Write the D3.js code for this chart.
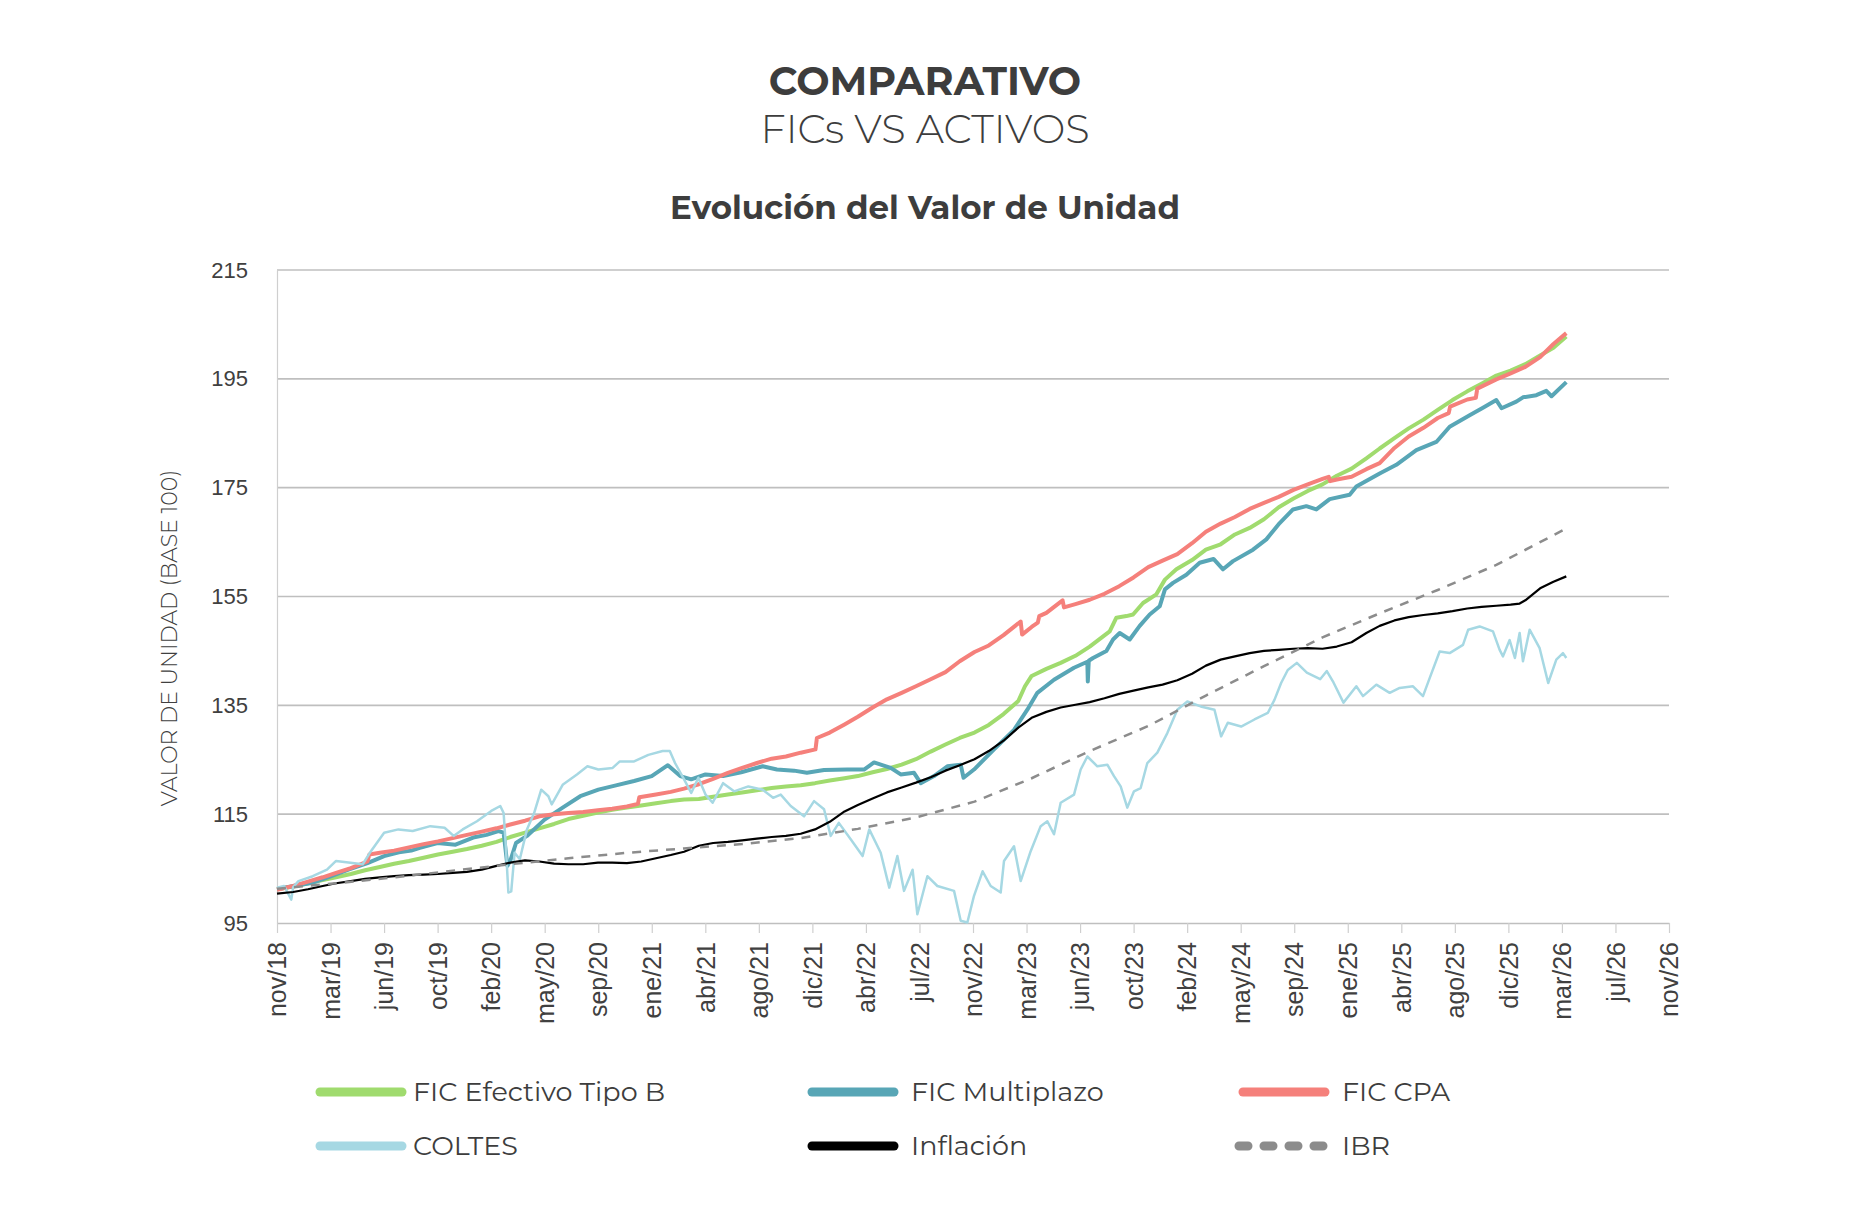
<!DOCTYPE html>
<html lang="es">
<head>
<meta charset="utf-8">
<title>Comparativo FICs vs Activos</title>
<script src="https://cdn.jsdelivr.net/npm/d3@7"></script>
<style>
    body { margin: 0; background: #ffffff; font-family: "Montserrat", "Inter", "Noto Sans", sans-serif; }
    #chart-area { width: 1850px; height: 1206px; }
    .axis text { fill: #404040; }
</style>
</head>
<body>
<div id="chart-area"></div>
<script>

// ---- DATA ----

const ficEfectivo = [
    ["2018-11-11",101.2],["2018-12-15",101.7],["2019-01-15",102.3],["2019-02-15",102.9],["2019-03-15",103.4],
    ["2019-04-15",104.0],["2019-05-15",104.7],["2019-06-15",105.3],["2019-07-15",105.9],["2019-08-15",106.4],
    ["2019-09-15",107.0],["2019-10-15",107.6],["2019-11-15",108.1],["2019-12-15",108.6],["2020-01-15",109.2],
    ["2020-02-15",109.9],["2020-03-15",110.8],["2020-04-15",111.6],["2020-05-15",112.4],["2020-06-15",113.2],
    ["2020-07-15",114.1],["2020-08-15",114.7],["2020-09-15",115.3],["2020-10-15",115.8],["2020-11-15",116.2],
    ["2020-12-15",116.6],["2021-01-15",117.0],["2021-02-15",117.4],["2021-03-15",117.7],["2021-04-15",117.8],
    ["2021-05-15",118.2],["2021-06-15",118.6],["2021-07-15",119.0],["2021-08-15",119.4],["2021-09-15",119.8],
    ["2021-10-15",120.1],["2021-11-15",120.3],["2021-12-15",120.7],["2022-01-15",121.2],["2022-02-15",121.6],
    ["2022-03-15",122.0],["2022-04-15",122.7],["2022-05-15",123.3],["2022-06-15",124.1],["2022-07-15",125.1],
    ["2022-08-15",126.5],["2022-09-15",127.8],["2022-10-15",129.0],["2022-11-15",130.0],["2022-12-15",131.4],
    ["2023-01-15",133.4],["2023-02-15",135.8],["2023-03-01",138.5],["2023-03-15",140.4],["2023-04-15",141.7],
    ["2023-05-15",142.8],["2023-06-15",144.1],["2023-07-15",145.8],["2023-08-26",148.6],["2023-09-09",151.1],
    ["2023-09-30",151.4],["2023-10-14",151.7],["2023-11-04",153.8],["2023-12-02",155.4],["2023-12-20",158.1],
    ["2024-01-13",160.0],["2024-02-15",161.7],["2024-03-15",163.6],["2024-04-15",164.6],["2024-05-15",166.4],
    ["2024-06-15",167.6],["2024-07-15",169.2],["2024-08-15",171.4],["2024-09-15",173.0],["2024-10-15",174.4],
    ["2024-11-15",175.6],["2024-12-15",177.2],["2025-01-15",178.5],["2025-02-15",180.4],["2025-03-15",182.2],
    ["2025-04-15",184.1],["2025-05-15",185.9],["2025-06-15",187.5],["2025-07-15",189.3],["2025-08-15",191.1],
    ["2025-09-15",192.7],["2025-10-15",194.1],["2025-11-15",195.6],["2025-12-15",196.5],["2026-01-15",197.7],
    ["2026-02-15",199.3],["2026-03-15",200.7],["2026-04-11",202.8]
];

const ficMultiplazo = [
    ["2018-11-11",101.2],["2018-12-10",101.7],["2019-01-25",102.4],["2019-03-01",103.5],["2019-04-10",104.8],
    ["2019-05-20",106.0],["2019-06-24",107.3],["2019-07-25",108.0],["2019-08-20",108.3],["2019-09-07",108.8],
    ["2019-10-14",109.7],["2019-11-21",109.4],["2019-12-28",110.7],["2020-01-25",111.2],["2020-02-19",111.9],
    ["2020-03-01",111.6],["2020-03-09",105.5],["2020-03-16",106.7],["2020-03-27",109.7],["2020-04-19",111.0],
    ["2020-05-26",114.0],["2020-07-03",116.2],["2020-08-09",118.3],["2020-09-16",119.5],["2020-10-23",120.3],
    ["2020-11-30",121.1],["2021-01-06",122.0],["2021-02-09",124.0],["2021-03-07",122.0],["2021-03-30",121.4],
    ["2021-04-29",122.3],["2021-06-05",122.0],["2021-07-13",122.7],["2021-08-27",123.8],["2021-09-26",123.2],
    ["2021-11-01",123.0],["2021-11-28",122.6],["2022-01-03",123.1],["2022-02-21",123.2],["2022-03-28",123.2],
    ["2022-04-18",124.5],["2022-05-23",123.5],["2022-06-13",122.3],["2022-07-11",122.6],["2022-07-25",120.7],
    ["2022-08-22",122.0],["2022-09-19",123.8],["2022-10-17",124.1],["2022-10-23",121.7],["2022-11-14",123.2],
    ["2022-12-26",126.9],["2023-02-06",130.5],["2023-03-06",134.2],["2023-03-27",137.3],["2023-05-01",139.7],
    ["2023-06-12",141.9],["2023-07-10",143.0],["2023-07-11",139.4],["2023-07-13",143.2],["2023-07-22",143.7],
    ["2023-08-19",145.0],["2023-09-02",147.1],["2023-09-16",148.3],["2023-10-07",147.1],["2023-10-28",149.6],
    ["2023-11-18",151.7],["2023-12-09",153.2],["2023-12-20",156.3],["2024-01-06",157.5],["2024-02-03",159.0],
    ["2024-03-02",161.2],["2024-03-31",161.9],["2024-04-20",160.0],["2024-05-11",161.5],["2024-06-22",163.6],
    ["2024-07-20",165.5],["2024-08-17",168.5],["2024-09-14",171.0],["2024-10-12",171.6],["2024-11-02",171.0],
    ["2024-11-30",172.9],["2025-01-11",173.7],["2025-01-25",175.2],["2025-03-15",177.6],["2025-04-19",179.2],
    ["2025-05-31",181.9],["2025-07-12",183.4],["2025-08-09",186.2],["2025-09-20",188.3],["2025-10-18",189.7],
    ["2025-11-15",191.1],["2025-11-26",189.6],["2025-12-27",190.8],["2026-01-10",191.6],["2026-02-07",192.0],
    ["2026-02-28",192.8],["2026-03-11",191.8],["2026-04-11",194.4]
];

const ficCPA = [
    ["2018-11-11",101.1],["2018-12-15",101.8],["2019-01-15",102.6],["2019-02-15",103.4],["2019-03-15",104.2],
    ["2019-04-15",105.1],["2019-05-20",106.3],["2019-05-24",107.6],["2019-06-15",107.9],["2019-07-15",108.3],
    ["2019-08-15",108.9],["2019-09-15",109.5],["2019-10-15",110.0],["2019-11-15",110.6],["2019-12-15",111.2],
    ["2020-01-15",111.8],["2020-02-15",112.4],["2020-03-15",113.1],["2020-04-15",113.8],["2020-05-15",114.6],
    ["2020-06-15",115.0],["2020-07-15",115.2],["2020-08-15",115.4],["2020-09-15",115.7],["2020-10-15",116.0],
    ["2020-11-15",116.4],["2020-12-08",116.9],["2020-12-11",118.1],["2021-01-15",118.6],["2021-02-15",119.1],
    ["2021-03-15",119.7],["2021-04-15",120.5],["2021-05-15",121.5],["2021-06-15",122.6],["2021-07-15",123.5],
    ["2021-08-15",124.4],["2021-09-15",125.2],["2021-10-15",125.6],["2021-11-15",126.3],["2021-12-16",126.9],
    ["2021-12-19",129.0],["2022-01-15",130.0],["2022-02-15",131.5],["2022-03-15",132.9],["2022-04-15",134.6],
    ["2022-05-15",136.1],["2022-06-15",137.3],["2022-07-15",138.5],["2022-08-15",139.8],["2022-09-15",141.1],
    ["2022-10-15",143.1],["2022-11-15",144.8],["2022-12-15",146.0],["2023-01-15",147.9],["2023-02-20",150.4],
    ["2023-02-23",148.0],["2023-03-15",149.4],["2023-03-28",150.2],["2023-03-31",151.4],["2023-04-15",152.0],
    ["2023-05-19",154.3],["2023-05-22",153.0],["2023-06-15",153.6],["2023-07-15",154.4],["2023-08-15",155.5],
    ["2023-09-15",156.9],["2023-10-15",158.5],["2023-11-15",160.4],["2023-12-15",161.6],["2024-01-15",162.8],
    ["2024-02-15",164.8],["2024-03-15",166.9],["2024-04-15",168.4],["2024-05-15",169.6],["2024-06-15",171.1],
    ["2024-07-15",172.2],["2024-08-15",173.3],["2024-09-15",174.6],["2024-10-15",175.6],["2024-11-15",176.6],
    ["2024-11-28",177.0],["2024-12-01",176.2],["2024-12-15",176.5],["2025-01-15",177.0],["2025-02-15",178.4],
    ["2025-03-15",179.5],["2025-04-15",182.3],["2025-05-15",184.4],["2025-06-15",186.0],["2025-07-15",187.8],
    ["2025-08-07",188.7],["2025-08-10",189.9],["2025-09-15",191.2],["2025-10-03",191.5],["2025-10-06",193.2],
    ["2025-11-15",194.9],["2025-12-15",196.0],["2026-01-15",197.2],["2026-02-15",199.0],["2026-03-15",201.4],
    ["2026-04-11",203.4]
];

const coltes = [
    ["2018-11-11",101.5],["2018-11-26",101.8],["2018-12-11",99.3],["2018-12-15",101.6],["2018-12-26",102.7],
    ["2019-01-25",103.6],["2019-02-24",104.8],["2019-03-15",106.4],["2019-04-10",106.1],["2019-05-10",105.8],
    ["2019-05-25",107.9],["2019-06-24",111.6],["2019-07-24",112.2],["2019-08-23",111.9],["2019-09-29",112.8],
    ["2019-10-29",112.5],["2019-11-17",111.0],["2019-12-06",112.2],["2020-01-05",113.7],["2020-02-04",115.6],
    ["2020-02-23",116.5],["2020-03-01",115.2],["2020-03-05",110.0],["2020-03-11",100.6],["2020-03-17",100.8],
    ["2020-03-24",107.9],["2020-04-04",106.7],["2020-04-19",112.2],["2020-05-04",115.2],["2020-05-19",119.5],
    ["2020-06-03",118.3],["2020-06-10",116.8],["2020-07-03",120.4],["2020-08-02",122.3],["2020-08-24",123.8],
    ["2020-09-16",123.2],["2020-10-16",123.5],["2020-10-31",124.7],["2020-11-30",124.7],["2020-12-30",125.9],
    ["2021-01-29",126.6],["2021-02-13",126.6],["2021-02-24",124.4],["2021-03-15",121.4],["2021-03-30",118.9],
    ["2021-04-14",121.7],["2021-04-29",118.6],["2021-05-14",117.1],["2021-06-05",120.7],["2021-06-28",119.2],
    ["2021-07-28",120.1],["2021-08-27",119.5],["2021-09-18",118.0],["2021-10-04",118.6],["2021-10-25",116.5],
    ["2021-11-22",114.6],["2021-12-13",117.4],["2022-01-03",115.9],["2022-01-17",111.0],["2022-02-03",113.4],
    ["2022-02-28",110.4],["2022-03-25",107.3],["2022-04-08",112.2],["2022-05-02",107.9],["2022-05-20",101.5],
    ["2022-06-06",107.3],["2022-06-20",100.9],["2022-07-08",104.8],["2022-07-18",96.6],["2022-08-08",103.6],
    ["2022-08-29",101.8],["2022-10-03",100.9],["2022-10-17",95.4],["2022-10-31",95.1],["2022-11-14",100.0],
    ["2022-12-02",104.5],["2022-12-19",101.8],["2023-01-09",100.6],["2023-01-16",106.4],["2023-02-06",109.1],
    ["2023-02-20",102.7],["2023-03-13",108.2],["2023-04-03",112.8],["2023-04-17",113.7],["2023-05-01",111.3],
    ["2023-05-15",117.1],["2023-06-12",118.6],["2023-06-26",123.2],["2023-07-10",125.6],["2023-07-31",123.8],
    ["2023-08-21",124.1],["2023-09-04",122.0],["2023-09-18",120.1],["2023-10-02",116.2],["2023-10-16",119.2],
    ["2023-10-30",119.8],["2023-11-13",124.4],["2023-12-04",126.3],["2023-12-25",129.9],["2024-01-15",134.2],
    ["2024-02-05",135.7],["2024-03-04",134.8],["2024-04-02",134.2],["2024-04-16",129.3],["2024-04-30",131.8],
    ["2024-05-28",131.1],["2024-06-25",132.4],["2024-07-23",133.6],["2024-08-06",136.0],["2024-08-20",139.1],
    ["2024-09-03",141.5],["2024-09-22",142.8],["2024-10-13",141.0],["2024-11-10",139.8],["2024-11-24",141.3],
    ["2024-12-08",139.2],["2024-12-29",135.5],["2025-01-25",138.5],["2025-02-08",136.7],["2025-03-08",138.8],
    ["2025-04-05",137.3],["2025-04-26",138.2],["2025-05-24",138.5],["2025-06-14",136.7],["2025-06-28",140.0],
    ["2025-07-19",144.9],["2025-08-09",144.6],["2025-09-06",146.1],["2025-09-17",148.9],["2025-10-11",149.5],
    ["2025-11-08",148.6],["2025-11-22",145.2],["2025-11-29",144.0],["2025-12-13",147.0],["2025-12-24",143.7],
    ["2026-01-03",148.3],["2026-01-10",143.1],["2026-01-24",148.9],["2026-02-14",145.5],["2026-03-04",139.1],
    ["2026-03-21",143.4],["2026-04-04",144.6],["2026-04-11",143.7]
];

const inflacion = [
    ["2018-11-11",100.4],["2018-12-15",100.7],["2019-01-15",101.2],["2019-02-15",101.8],["2019-03-15",102.3],
    ["2019-04-15",102.7],["2019-05-15",103.1],["2019-06-15",103.4],["2019-07-15",103.6],["2019-08-15",103.8],
    ["2019-09-15",103.9],["2019-10-15",104.0],["2019-11-15",104.2],["2019-12-15",104.4],["2020-01-15",104.8],
    ["2020-02-15",105.5],["2020-03-15",106.1],["2020-04-15",106.5],["2020-05-15",106.3],["2020-06-15",105.9],
    ["2020-07-15",105.8],["2020-08-15",105.8],["2020-09-15",106.1],["2020-10-15",106.1],["2020-11-15",106.0],
    ["2020-12-15",106.3],["2021-01-15",106.9],["2021-02-15",107.5],["2021-03-15",108.1],["2021-04-15",109.2],
    ["2021-05-15",109.7],["2021-06-15",109.9],["2021-07-15",110.2],["2021-08-15",110.5],["2021-09-15",110.8],
    ["2021-10-15",111.0],["2021-11-15",111.4],["2021-12-15",112.2],["2022-01-15",113.6],["2022-02-15",115.5],
    ["2022-03-15",116.7],["2022-04-15",117.9],["2022-05-15",119.0],["2022-06-15",119.9],["2022-07-15",120.8],
    ["2022-08-15",121.8],["2022-09-15",123.0],["2022-10-15",124.0],["2022-11-15",125.1],["2022-12-15",126.6],
    ["2023-01-15",128.5],["2023-02-15",130.9],["2023-03-15",132.7],["2023-04-15",133.8],["2023-05-15",134.6],
    ["2023-06-15",135.1],["2023-07-15",135.6],["2023-08-15",136.3],["2023-09-15",137.1],["2023-10-15",137.7],
    ["2023-11-15",138.3],["2023-12-15",138.8],["2024-01-15",139.6],["2024-02-15",140.8],["2024-03-15",142.3],
    ["2024-04-15",143.4],["2024-05-15",144.0],["2024-06-15",144.6],["2024-07-15",145.0],["2024-08-15",145.2],
    ["2024-09-15",145.4],["2024-10-15",145.5],["2024-11-15",145.4],["2024-12-15",145.8],["2025-01-15",146.6],
    ["2025-02-15",148.3],["2025-03-15",149.6],["2025-04-15",150.6],["2025-05-15",151.2],["2025-06-15",151.6],
    ["2025-07-15",151.9],["2025-08-15",152.3],["2025-09-15",152.8],["2025-10-15",153.1],["2025-11-15",153.3],
    ["2025-12-15",153.5],["2026-01-03",153.7],["2026-01-15",154.3],["2026-02-15",156.5],["2026-03-15",157.7],
    ["2026-04-11",158.7]
];

const ibr = [
    ["2018-11-11",101.3],["2019-03-15",102.3],["2019-07-15",103.4],["2019-11-15",104.6],["2020-03-15",105.8],
    ["2020-07-15",106.9],["2020-11-15",107.9],["2021-03-15",108.7],["2021-07-15",109.5],["2021-11-15",110.6],
    ["2022-03-15",112.3],["2022-07-15",114.4],["2022-11-15",117.3],["2023-03-15",121.6],["2023-07-15",126.6],
    ["2023-11-15",131.2],["2024-03-15",136.8],["2024-07-15",142.2],["2024-11-15",147.5],["2025-03-15",151.9],
    ["2025-07-15",156.2],["2025-11-15",160.8],["2026-04-11",167.5]
];

const seriesNames = ["FIC Efectivo Tipo B", "FIC Multiplazo", "FIC CPA", "COLTES", "Inflación", "IBR"];

const xTickLabels = ["nov/18","mar/19","jun/19","oct/19","feb/20","may/20","sep/20","ene/21","abr/21",
    "ago/21","dic/21","abr/22","jul/22","nov/22","mar/23","jun/23","oct/23","feb/24","may/24","sep/24",
    "ene/25","abr/25","ago/25","dic/25","mar/26","jul/26","nov/26"];

const yTickValues = [95, 115, 135, 155, 175, 195, 215];


class LineVis {

    constructor(parentElement, seriesData) {
        this.parentElement = parentElement;
        this.seriesData = seriesData;
        this.parseDate = d3.timeParse("%Y-%m-%d");

        // colours / widths per series, in legend order
        this.styles = [
            {color: "#a0db6e", width: 4},
            {color: "#58a6b6", width: 4},
            {color: "#f5807b", width: 4},
            {color: "#a6d8e3", width: 2.5},
            {color: "#000000", width: 2.2},
            {color: "#8c8c8c", width: 2.5, dash: "9,8"}
        ];
        this.initVis()
    }

    initVis(){
        let vis = this;

        vis.margin = {top: 270, right: 181, bottom: 283, left: 277};
        vis.width = 1850 - vis.margin.left - vis.margin.right;
        vis.height = 1206 - vis.margin.top - vis.margin.bottom;

        vis.root = d3.select("#" + vis.parentElement).append("svg")
            .attr("width", 1850)
            .attr("height", 1206);

        vis.svg = vis.root.append("g")
            .attr("transform", "translate(" + vis.margin.left + "," + vis.margin.top + ")");

        // titles
        vis.root.append("text")
            .attr("x", 925).attr("y", 95)
            .attr("text-anchor", "middle")
            .attr("font-size", 39.5).attr("font-weight", 700)
            .attr("fill", "#3d3d3d")
            .text("COMPARATIVO");

        vis.root.append("text")
            .attr("x", 925).attr("y", 143)
            .attr("text-anchor", "middle")
            .attr("font-size", 40).attr("font-weight", 300)
            .attr("fill", "#3d3d3d")
            .text("FICs VS ACTIVOS");

        vis.root.append("text")
            .attr("x", 925).attr("y", 219)
            .attr("text-anchor", "middle")
            .attr("font-size", 32.5).attr("font-weight", 700)
            .attr("fill", "#3d3d3d")
            .text("Evolución del Valor de Unidad");

        // scales: the axis runs from nov/18 to nov/26 in equal steps
        vis.xStart = new Date(2018, 10, 11);
        vis.xEnd = new Date(2026, 10, 12, 17);
        vis.x = d3.scaleTime()
            .domain([vis.xStart, vis.xEnd])
            .range([0, vis.width]);

        vis.y = d3.scaleLinear()
            .domain([d3.min(yTickValues), d3.max(yTickValues)])
            .range([vis.height, 0]);

        vis.tickDates = xTickLabels.map((d, i) =>
            new Date(vis.xStart.getTime() + i * (vis.xEnd - vis.xStart) / (xTickLabels.length - 1)));

        // gridlines
        vis.svg.append("g")
            .attr("class", "grid")
            .selectAll("line")
            .data(yTickValues.slice(1))
            .enter().append("line")
            .attr("x1", 0)
            .attr("x2", vis.width)
            .attr("y1", d => vis.y(d))
            .attr("y2", d => vis.y(d))
            .attr("stroke", "#bfbfbf")
            .attr("stroke-width", 1.6);

        // AXIS
        vis.yAxis = d3.axisLeft(vis.y)
            .tickValues(yTickValues)
            .tickSize(0)
            .tickPadding(29);

        vis.svg.append("g")
            .attr("class", "y-axis axis")
            .call(vis.yAxis)
            .call(g => g.select(".domain").attr("stroke", "#cfcfcf").attr("stroke-width", 1.2))
            .selectAll("text")
            .attr("font-size", 22)
            .attr("font-weight", 300);

        vis.xAxis = d3.axisBottom(vis.x)
            .tickValues(vis.tickDates)
            .tickFormat((d, i) => xTickLabels[i])
            .tickSize(10)
            .tickSizeOuter(0);

        vis.xAxisGroup = vis.svg.append("g")
            .attr("class", "x-axis axis")
            .attr("transform", "translate(0," + vis.height + ")")
            .call(vis.xAxis);

        vis.xAxisGroup.select(".domain").attr("stroke", "#bfbfbf").attr("stroke-width", 1.6);
        vis.xAxisGroup.selectAll(".tick line").attr("stroke", "#cfcfcf").attr("stroke-width", 1.2);
        vis.xAxisGroup.selectAll("text")
            .attr("font-size", 25)
            .attr("font-weight", 300)
            .style("text-anchor", "end")
            .attr("x", -19)
            .attr("y", 0)
            .attr("dy", "0.35em")
            .attr("transform", "rotate(-90)");

        // y label
        vis.root.append("text")
            .attr("transform", "translate(169,638) rotate(-90)")
            .attr("text-anchor", "middle")
            .attr("dy", "0.35em")
            .attr("font-size", 22)
            .attr("font-weight", 300)
            .attr("fill", "#404040")
            .text("VALOR DE UNIDAD (BASE 100)");

        vis.line = d3.line()
            .x(d => vis.x(d.date))
            .y(d => vis.y(d.value));

        vis.lineGroup = vis.svg.append("g").attr("class", "lines");

        vis.drawLegend();

        this.wrangleData();
    }

    drawLegend(){
        let vis = this;

        let colX = [320, 812, 1243];
        let rowY = [1092, 1146];

        let items = vis.root.append("g")
            .attr("class", "legend")
            .selectAll("g")
            .data(seriesNames)
            .enter().append("g")
            .attr("transform", (d, i) => "translate(" + colX[i % 3] + "," + rowY[Math.floor(i / 3)] + ")");

        items.append("line")
            .attr("x1", (d, i) => i === 5 ? -4 : 0)
            .attr("x2", 82)
            .attr("stroke", (d, i) => vis.styles[i].color)
            .attr("stroke-width", 9)
            .attr("stroke-linecap", "round")
            .attr("stroke-dasharray", (d, i) => i === 5 ? "9,16" : null);

        items.append("text")
            .attr("x", (d, i) => i % 3 === 0 ? 93 : 99)
            .attr("dy", "0.35em")
            .attr("font-size", 27)
            .attr("font-weight", 400)
            .attr("fill", "#3d3d3d")
            .text(d => d);
    }

    wrangleData(){
        let vis = this;

        vis.displayData = vis.seriesData.map((s, i) => ({
            name: seriesNames[i],
            style: vis.styles[i],
            values: s.map(d => ({date: vis.parseDate(d[0]), value: d[1]}))
        }));

        vis.updateVis()
    }

    updateVis(){
        let vis = this;

        // series drawn in legend order, later ones on top
        vis.lineGroup.selectAll(".series")
            .data(vis.displayData)
            .enter().append("path")
            .attr("class", "series")
            .attr("fill", "none")
            .attr("stroke", d => d.style.color)
            .attr("stroke-width", d => d.style.width)
            .attr("stroke-dasharray", d => d.style.dash || null)
            .attr("stroke-linejoin", "round")
            .attr("d", d => vis.line(d.values));
    }
}

let myLineVis = new LineVis("chart-area", [ficEfectivo, ficMultiplazo, ficCPA, coltes, inflacion, ibr]);

</script>
</body>
</html>
